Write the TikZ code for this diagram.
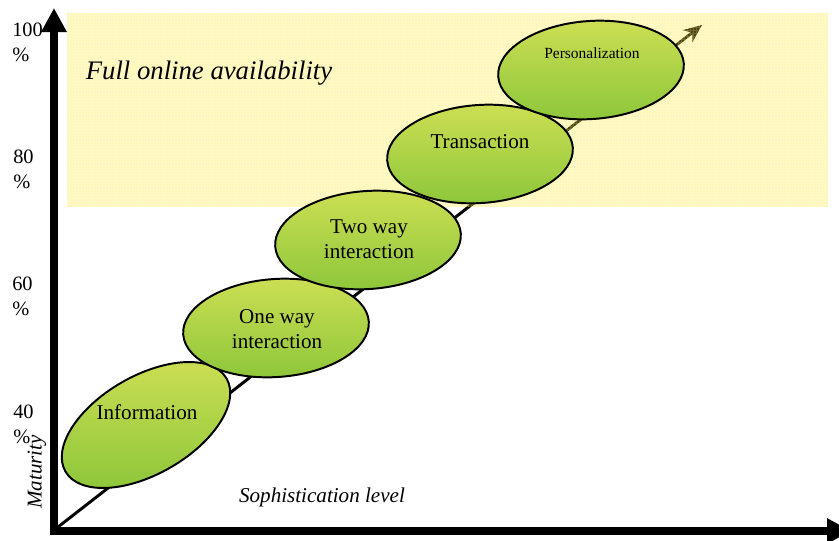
\documentclass[tikz,border=0pt]{standalone}
\usepackage{fontspec}
\setmainfont{Liberation Serif}
\usetikzlibrary{shapes,arrows.meta}
\definecolor{haze}{RGB}{250,233,22}
\definecolor{leaftop}{RGB}{206,223,84}
\definecolor{leafbot}{RGB}{140,198,58}

\begin{document}
\begin{tikzpicture}[x=0.025cm,y=-0.025cm,
  stage/.style={ellipse,draw,line width=1.4pt,minimum width=4.65cm,minimum height=2.45cm,inner sep=0pt,top color=leaftop,bottom color=leafbot},
  stagetext/.style={font=\fontsize{15}{18}\selectfont,align=center,inner sep=0pt},
  pct/.style={anchor=north west,inner sep=0pt,align=left,font=\fontsize{14.5}{17.8}\selectfont}]
\useasboundingbox (0,0) rectangle (839,540);
\coordinate (origin) at (54,531);
\coordinate (ytop) at (54,8);
\coordinate (xend) at (851,531);
\coordinate (start) at (58,527);
\coordinate (peak) at (702,25);
\draw[line width=5.7pt,line join=miter,{Triangle[length=0.6cm,width=0.6cm]}-{Triangle[length=0.6cm,width=0.6cm]}] (ytop) -- (origin) -- (xend);
\draw[line width=2.1pt,-{Stealth[length=13pt,width=11pt]}] (start) -- (peak);
\fill[haze,fill opacity=0.3] (67,13) rectangle (828,207);
\draw[white,line width=0.3pt,opacity=0.2,step=0.075cm] (67,13) grid (828,207);
\node[stage,rotate=30] (info) at (146,425) {};
\node[stage,rotate=4] (oneway) at (276,328) {};
\node[stage,rotate=4] (twoway) at (368,240) {};
\node[stage,rotate=4] (trans) at (480,154) {};
\node[stage,rotate=4] (pers) at (591,70) {};
\node[stagetext] (infotext) at (147,412) {Information};
\node[stagetext] (onewaytext) at (277,329) {One way\\interaction};
\node[stagetext] (twowaytext) at (369,239) {Two way\\interaction};
\node[stagetext] (transtext) at (480,142) {Transaction};
\node[stagetext,font=\fontsize{11}{13}\selectfont] (perstext) at (592,53) {Personalization};
\node[pct] (p100) at (12,23) {100\\\%};
\node[pct] (p80) at (13,150) {80\\\%};
\node[pct] (p60) at (12,277) {60\\\%};
\node[pct] (p40) at (13,405) {40\\\%};
\node[anchor=base,font=\fontsize{19}{23}\selectfont\itshape] (full) at (209,79) {Full online availability};
\node[anchor=base,font=\fontsize{15}{18}\selectfont\itshape] (soph) at (322,502) {Sophistication level};
\node[rotate=90,font=\fontsize{15}{18}\selectfont\itshape] (maturity) at (37,472) {Maturity};
\end{tikzpicture}
\end{document}
